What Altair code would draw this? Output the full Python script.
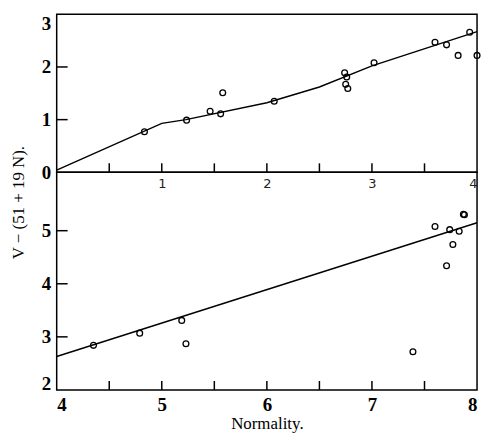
import altair as alt
import pandas as pd

# ---- data ----
top_x = [0.835, 1.236, 1.46, 1.58, 1.56, 2.07, 2.74, 2.76, 2.75, 2.77, 3.02, 3.60, 3.71, 3.82, 3.93, 4.0]
top_y = [0.77, 0.99, 1.16, 1.51, 1.11, 1.35, 1.89, 1.81, 1.67, 1.59, 2.08, 2.47, 2.42, 2.22, 2.66, 2.22]
top_line_x = [0, 1, 1.23, 2, 2.5, 3, 4]
top_line_y = [0.04, 0.93, 1.0, 1.32, 1.62, 2.02, 2.67]

bot_x = [4.35, 4.79, 5.19, 5.23, 7.60, 7.74, 7.83, 7.77, 7.71, 7.87, 7.88, 7.39]
bot_y = [2.84, 3.07, 3.31, 2.87, 5.08, 5.02, 4.99, 4.74, 4.34, 5.31, 5.30, 2.72]
bot_line_x = [4, 8]
bot_line_y = [2.63, 5.15]

top_xticks = [0.5, 1, 1.5, 2, 2.5, 3, 3.5]
top_xlabels = [1, 2, 3, 4]
top_yticks = [1, 2]
top_ylabels = [0, 1, 2, 3]
bot_xticks = [4.5, 5, 5.5, 6, 6.5, 7, 7.5]
bot_xlabels = [4, 5, 6, 7, 8]
bot_yticks = [3, 4, 5]
bot_ylabels = [2, 3, 4, 5]

W = 423
H_TOP = 159
H_BOT = 219
SERIF = "Liberation Serif"

top_pts = pd.DataFrame({"x": top_x, "y": top_y})
top_ln = pd.DataFrame({"x": top_line_x, "y": top_line_y})
bot_pts = pd.DataFrame({"x": bot_x, "y": bot_y})
bot_ln = pd.DataFrame({"x": bot_line_x, "y": bot_line_y})


def panel(pts, ln, xdom, ydom, xticks, yticks, h, xaxis, yaxis):
    xs = alt.Scale(domain=xdom, nice=False, zero=False)
    ys = alt.Scale(domain=ydom, nice=False, zero=False)
    line = alt.Chart(ln).mark_line(color="black", strokeWidth=1.4, clip=True).encode(
        x=alt.X("x:Q", scale=xs, axis=xaxis),
        y=alt.Y("y:Q", scale=ys, axis=yaxis),
    )
    points = alt.Chart(pts).mark_point(
        shape="circle", filled=False, color="black", size=34, strokeWidth=1.3, opacity=1, clip=False
    ).encode(x=alt.X("x:Q", scale=xs), y=alt.Y("y:Q", scale=ys))
    xt = alt.Chart(pd.DataFrame({"x": xticks})).mark_tick(
        color="black", thickness=1.5, size=9, orient="vertical", opacity=1
    ).encode(x=alt.X("x:Q", scale=xs), y=alt.value(h - 4.5))
    yt = alt.Chart(pd.DataFrame({"y": yticks})).mark_tick(
        color="black", thickness=1.5, size=11, orient="horizontal", opacity=1
    ).encode(y=alt.Y("y:Q", scale=ys), x=alt.value(5.5))
    return alt.layer(line, points, xt, yt).properties(width=W, height=h)


top_xaxis = alt.Axis(
    values=top_xlabels, format="d", title=None, ticks=False, domain=False, grid=False,
    labelFont="DejaVu Sans", labelFontSize=13, labelFontWeight="normal", labelColor="#222",
    labelPadding=5,
)
top_yaxis = alt.Axis(
    values=top_ylabels, format="d", title=None, ticks=False, domain=False, grid=False,
    labelFont=SERIF, labelFontSize=19, labelFontWeight="bold", labelColor="black", labelPadding=6,
    labelBaseline={"condition": {"test": "datum.value == 3", "value": "top"}, "value": "middle"},
)
bot_xaxis = alt.Axis(
    values=bot_xlabels, format="d", title="Normality.", ticks=False, domain=False, grid=False,
    labelFont=SERIF, labelFontSize=19, labelFontWeight="bold", labelColor="black", labelPadding=6,
    titleFont=SERIF, titleFontSize=17, titleFontWeight="normal", titleColor="black", titlePadding=1,
)
bot_yaxis = alt.Axis(
    values=bot_ylabels, format="d", title="V − (51 + 19 N).", ticks=False, domain=False, grid=False,
    labelFont=SERIF, labelFontSize=19, labelFontWeight="bold", labelColor="black", labelPadding=6,
    labelBaseline={"condition": {"test": "datum.value == 2", "value": "alphabetic"}, "value": "middle"},
    titleFont=SERIF, titleFontSize=17, titleFontWeight="normal", titleColor="black",
    titleY=30, titlePadding=14,
)

top = panel(top_pts, top_ln, [0, 4], [0, 3], top_xticks, top_yticks, H_TOP, top_xaxis, top_yaxis)
bot = panel(bot_pts, bot_ln, [4, 8], [2, 6.1], bot_xticks, bot_yticks, H_BOT, bot_xaxis, bot_yaxis)

chart = alt.vconcat(top, bot, spacing=0, bounds="flush").properties(
    padding={"left": 0, "top": 4, "right": 0, "bottom": 0},
    background="white",
).configure_view(stroke="black", strokeWidth=1.5)

chart.save("out.html", embed_options={"renderer": "svg", "actions": False})
